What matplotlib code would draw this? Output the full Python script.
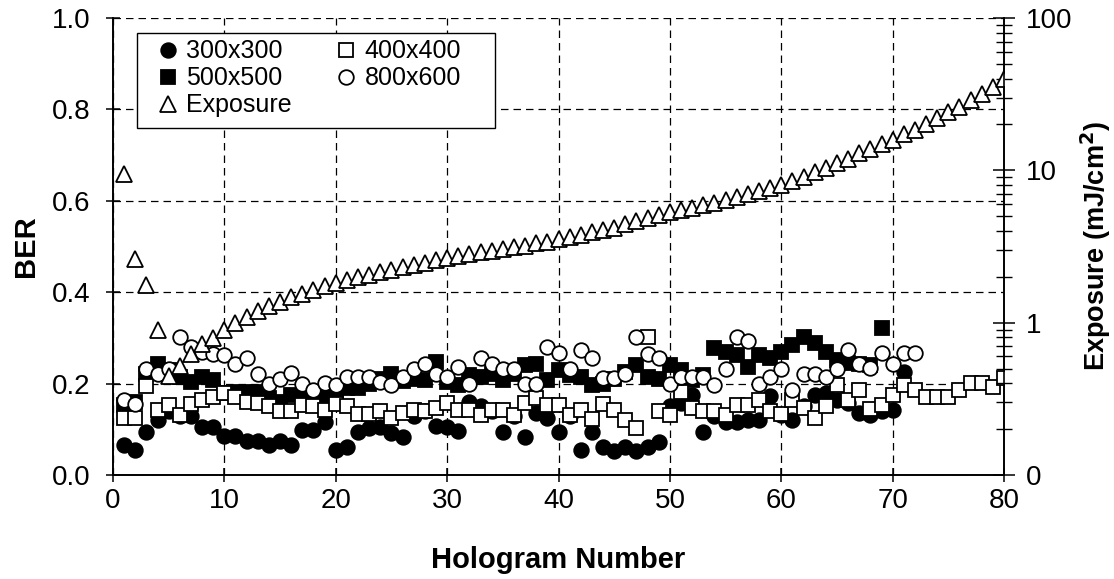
import numpy as np
import matplotlib
matplotlib.use('Agg')
import matplotlib.pyplot as plt
from matplotlib.patches import Rectangle
from matplotlib.ticker import LogLocator, NullFormatter

plt.rcParams['font.family'] = ['Liberation Sans', 'DejaVu Sans']

# BER per hologram for each page size
ber_300 = [0.065, 0.055, 0.095, 0.12, 0.14, 0.13, 0.13, 0.105, 0.105, 0.085,
           0.085, 0.075, 0.075, 0.065, 0.075, 0.066, 0.098, 0.098, 0.115, 0.055,
           0.062, 0.095, 0.102, 0.106, 0.091, 0.084, 0.13, 0.14, 0.108, 0.106,
           0.096, 0.16, 0.15, 0.14, 0.095, 0.13, 0.084, 0.135, 0.124, 0.095,
           0.13, 0.055, 0.095, 0.062, 0.052, 0.062, 0.052, 0.062, 0.072, 0.15,
           0.157, 0.175, 0.095, 0.13, 0.115, 0.117, 0.12, 0.12, 0.173, 0.131,
           0.12, 0.15, 0.175, 0.18, 0.164, 0.157, 0.135, 0.131, 0.139, 0.142,
           0.225]
ber_400 = [0.124, 0.124, 0.195, 0.142, 0.153, 0.131, 0.155, 0.164, 0.17, 0.18,
           0.17, 0.16, 0.157, 0.15, 0.139, 0.139, 0.153, 0.15, 0.142, 0.155,
           0.15, 0.133, 0.133, 0.139, 0.124, 0.135, 0.142, 0.139, 0.146, 0.157,
           0.142, 0.142, 0.131, 0.142, 0.142, 0.131, 0.157, 0.168, 0.153, 0.153,
           0.131, 0.142, 0.122, 0.155, 0.142, 0.12, 0.102, 0.303, 0.14, 0.132,
           0.182, 0.146, 0.14, 0.14, 0.131, 0.153, 0.153, 0.164, 0.14, 0.133,
           0.164, 0.146, 0.124, 0.152, 0.197, 0.164, 0.185, 0.144, 0.154, 0.175,
           0.197, 0.185, 0.171, 0.171, 0.171, 0.185, 0.202, 0.202, 0.193, 0.212]
ber_500 = [0.153, 0.16, 0.22, 0.244, 0.23, 0.215, 0.204, 0.215, 0.208, 0.18,
           0.182, 0.182, 0.182, 0.168, 0.16, 0.175, 0.168, 0.17, 0.175, 0.165,
           0.19, 0.19, 0.2, 0.21, 0.22, 0.205, 0.21, 0.208, 0.248, 0.204,
           0.197, 0.219, 0.215, 0.222, 0.208, 0.222, 0.24, 0.244, 0.208, 0.23,
           0.219, 0.215, 0.197, 0.2, 0.21, 0.226, 0.24, 0.215, 0.21, 0.24,
           0.23, 0.208, 0.219, 0.277, 0.27, 0.263, 0.237, 0.263, 0.255, 0.27,
           0.284, 0.303, 0.288, 0.27, 0.252, 0.245, 0.244, 0.24, 0.322]
ber_800 = [0.164, 0.155, 0.233, 0.222, 0.233, 0.303, 0.281, 0.27, 0.264, 0.263,
           0.244, 0.255, 0.222, 0.2, 0.21, 0.224, 0.2, 0.186, 0.202, 0.197,
           0.215, 0.215, 0.215, 0.204, 0.197, 0.215, 0.233, 0.244, 0.222, 0.215,
           0.237, 0.2, 0.255, 0.244, 0.233, 0.233, 0.2, 0.2, 0.281, 0.266,
           0.233, 0.274, 0.255, 0.212, 0.212, 0.222, 0.303, 0.265, 0.255, 0.2,
           0.215, 0.215, 0.215, 0.197, 0.233, 0.303, 0.293, 0.2, 0.215, 0.233,
           0.186, 0.222, 0.222, 0.215, 0.233, 0.274, 0.244, 0.235, 0.266, 0.244,
           0.266, 0.266]
# exposure per hologram (mJ/cm^2), right log axis
exposure = [9.5, 2.6, 1.76, 0.89, 0.45, 0.52, 0.62, 0.72, 0.79, 0.90,
            1.00, 1.09, 1.19, 1.28, 1.37, 1.47, 1.55, 1.64, 1.73, 1.82,
            1.90, 1.98, 2.06, 2.15, 2.22, 2.32, 2.40, 2.48, 2.57, 2.66,
            2.74, 2.81, 2.89, 2.95, 3.03, 3.12, 3.21, 3.32, 3.41, 3.53,
            3.66, 3.78, 3.92, 4.06, 4.2, 4.44, 4.66, 4.85, 5.09, 5.3,
            5.5, 5.69, 5.89, 6.14, 6.35, 6.67, 6.95, 7.29, 7.6, 8.0,
            8.5, 9.0, 9.7, 10.4, 11.1, 11.9, 12.9, 13.8, 14.8, 15.9,
            17.2, 18.5, 20.1, 21.9, 24.0, 26.2, 28.8, 31.8, 35.5, 39.6]


def holo(vals):
    return np.arange(1, len(vals) + 1)


fig = plt.figure(figsize=(11.14, 5.79), dpi=100)
ax = fig.add_axes([0.1014, 0.1796, 0.7999, 0.7893])
ax2 = ax.twinx()

ms = 10.5
mew = 1.3
h300, = ax.plot(holo(ber_300), ber_300, 'o', ms=ms, mfc='black', mec='black', mew=mew, zorder=3)
h500, = ax.plot(holo(ber_500), ber_500, 's', ms=ms, mfc='black', mec='black', mew=mew, zorder=4)
h400, = ax.plot(holo(ber_400), ber_400, 's', ms=ms, mfc='white', mec='black', mew=mew, zorder=5)
h800, = ax.plot(holo(ber_800), ber_800, 'o', ms=ms, mfc='white', mec='black', mew=mew, zorder=6)
hexp, = ax2.plot(holo(exposure), exposure, '^', ms=ms + 1, mfc='white', mec='black', mew=mew)

ax.set_xlim(0, 80)
ax.set_ylim(0, 1.0)
ax.set_xticks(range(0, 81, 10))
ax.set_yticks(np.arange(0, 1.01, 0.2))
ax.set_yticklabels(['0.0', '0.2', '0.4', '0.6', '0.8', '1.0'])
ax.grid(True, color='black', linestyle=(0, (6, 4)), linewidth=0.9)
ax.set_axisbelow(True)
ax.tick_params(axis='both', direction='inout', length=10, width=1.1, labelsize=20)
ax.tick_params(axis='y', pad=11)
ax.tick_params(axis='x', pad=4)
ax.set_xlabel('Hologram Number', fontsize=21, fontweight='bold')
ax.xaxis.set_label_coords(0.5, -0.155)
ax.set_ylabel('BER', fontsize=21, fontweight='bold')
ax.yaxis.set_label_coords(-0.082, 0.5)

ax2.set_yscale('log')
ax2.set_ylim(0.1, 100)
ax2.set_yticks([0.1, 1, 10, 100])
ax2.set_yticklabels(['0', '1', '10', '100'])
ax2.yaxis.set_minor_locator(LogLocator(base=10, subs=np.arange(2, 10)))
ax2.yaxis.set_minor_formatter(NullFormatter())
ax2.tick_params(axis='y', which='major', direction='inout', length=16, width=1.1, labelsize=20, pad=8)
ax2.tick_params(axis='y', which='minor', direction='inout', length=11, width=1.0)
ax2.set_ylabel('Exposure (mJ/cm$^\\mathbf{2}$)', fontsize=19.5, fontweight='bold')
ax2.yaxis.set_label_coords(1.083, 0.5)

for a in (ax, ax2):
    for side in ('left', 'right', 'bottom'):
        a.spines[side].set_linewidth(1.2)
    a.spines['top'].set_visible(False)

# legend box drawn separately so it can be wider than the entries
ax2.add_patch(Rectangle((0.0269, 0.7593), 0.4018, 0.2079, transform=ax2.transAxes,
                        facecolor='white', edgecolor='black', linewidth=1.0, zorder=9))
leg = ax2.legend([h300, h500, hexp, h400, h800],
                 ['300x300', '500x500', 'Exposure', '400x400', '800x600'],
                 ncol=2, loc='upper left', bbox_to_anchor=(0.052, 0.953),
                 borderaxespad=0, borderpad=0, fontsize=18, frameon=False,
                 markerscale=1.0, handlelength=0.7, handletextpad=0.37,
                 columnspacing=1.84, labelspacing=0.12)
leg.set_zorder(10)

fig.savefig('out.png', dpi=100)
